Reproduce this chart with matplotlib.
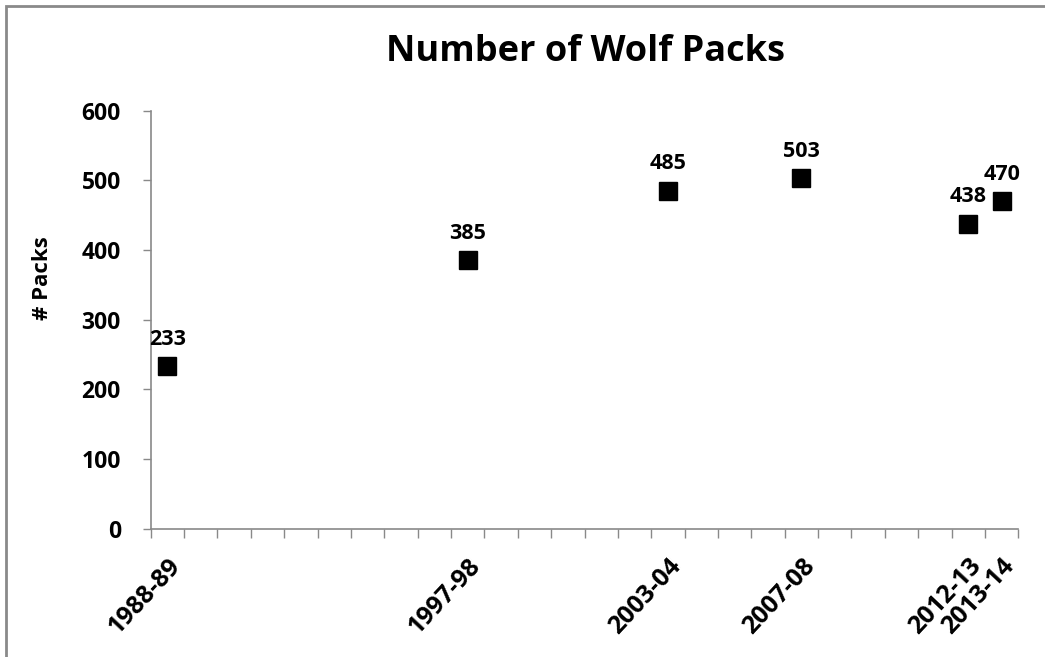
import numpy as np
import matplotlib.pyplot as plt
from matplotlib.patches import Rectangle

# data
seasons = ['1988-89', '1997-98', '2003-04', '2007-08', '2012-13', '2013-14']
start_years = [1988, 1997, 2003, 2007, 2012, 2013]
packs = [233, 385, 485, 503, 438, 470]

plt.rcParams['font.family'] = ['Open Sans', 'DejaVu Sans']
plt.rcParams['font.weight'] = 'bold'

W, H = 1045, 657
fig = plt.figure(figsize=(W / 100, H / 100), dpi=100)
ax = fig.add_axes([150.7 / W, 1 - 528.5 / H, (1018.3 - 150.7) / W, (528.5 - 110.7) / H])

# markers sit in the middle of each year slot
xpos = np.array(start_years) + 0.5
ax.plot(xpos, packs, linestyle='none', marker='s', markersize=12.5, color='black')
for x, v in zip(xpos, packs):
    ax.annotate(str(v), (x, v), xytext=(0, 12), textcoords='offset points',
                ha='center', va='bottom', fontsize=15.5, fontweight='bold')

ax.set_xlim(1988, 2014)
ax.set_ylim(0, 600)
ax.set_yticks(np.arange(0, 601, 100))
ax.set_xticks(np.arange(1988, 2015))
ax.set_xticklabels([])
ax.set_xticks(xpos, minor=True)
ax.set_xticklabels(seasons, minor=True, rotation=47, ha='right', va='top',
                   rotation_mode='anchor', fontsize=18, fontweight='bold')

grey = '#898989'
for s in ['top', 'right']:
    ax.spines[s].set_visible(False)
for s in ['left', 'bottom']:
    ax.spines[s].set_color(grey)
    ax.spines[s].set_linewidth(1.2)
ax.tick_params(axis='y', which='major', length=6, color=grey, width=1, pad=15.5, labelsize=16.5)
ax.tick_params(axis='x', which='major', length=6.5, color=grey, width=1)
ax.tick_params(axis='x', which='minor', length=0, pad=18)
for lab in ax.get_yticklabels():
    lab.set_fontweight('bold')

fig.text(585 / W, 1 - 52 / H, 'Number of Wolf Packs', ha='center', va='center',
         fontsize=26, fontweight='bold')
fig.text(43 / W, 1 - 278 / H, '# Packs', ha='center', va='center', rotation=90,
         fontsize=16, fontweight='bold')

# chart border (cropped at right and bottom)
fig.patches.append(Rectangle((6 / W, -0.1), 1.2, 1 - 6 / H + 0.1, transform=fig.transFigure,
                             fill=False, edgecolor='#8a8a8a', linewidth=2))

fig.savefig('out.png', dpi=100)
